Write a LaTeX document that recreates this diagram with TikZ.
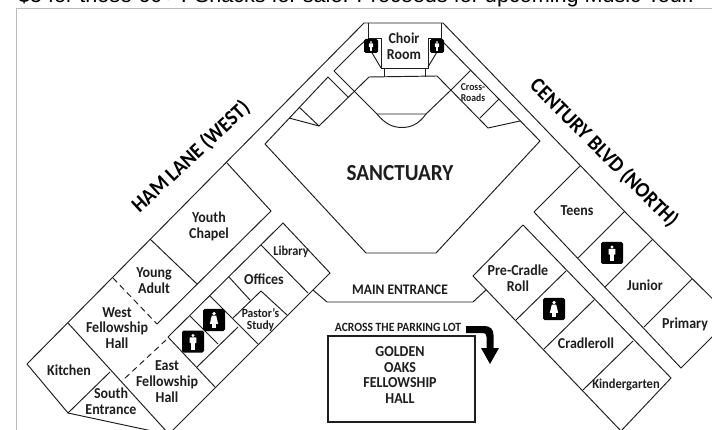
\documentclass[tikz,border=0pt]{standalone}
\usepackage{fontspec}
\setmainfont{Carlito}[FakeStretch=0.92]
\newfontfamily\topfont{Liberation Sans}
\newcommand{\labfont}{\fontsize{15.2}{15.8}\bfseries\selectfont}
\newcommand{\smallfont}{\fontsize{11.5}{11.3}\bfseries\selectfont}
\newcommand{\capfont}{\fontsize{14.6}{15.8}\bfseries\selectfont}
\definecolor{ink}{HTML}{1E1E1E}
\tikzset{
  wall/.style={draw=ink,line width=0.95pt,line join=miter},
  dashwall/.style={draw=ink,line width=0.95pt,dash pattern=on 6pt off 4pt},
  lab/.style={font=\labfont,align=center,inner sep=0pt,text=ink},
  smalllab/.style={font=\smallfont,align=center,inner sep=0pt,text=ink},
  caplab/.style={font=\capfont,align=center,inner sep=0pt,text=ink},
  street/.style={font=\fontsize{21.5}{22}\bfseries\selectfont,inner sep=0pt,text=black},
  tile/.style={fill=black},
  person/.style={fill=white,draw=none}
}
\newcommand{\manicon}[3]{% cx cy half-size
  \begin{scope}[shift={(#1,#2)},scale=#3]
    \fill[tile,rounded corners=1.6pt] (-1,-1) rectangle (1,1);
    \fill[person] (0,-0.55) circle (0.15);
    \fill[person,rounded corners=0.4pt] (-0.3,-0.38) rectangle (0.3,0.15);
    \fill[person] (-0.2,0.1) rectangle (-0.02,0.75);
    \fill[person] (0.02,0.1) rectangle (0.2,0.75);
  \end{scope}}
\newcommand{\womanicon}[3]{%
  \begin{scope}[shift={(#1,#2)},scale=#3]
    \fill[tile,rounded corners=1.6pt] (-1,-1) rectangle (1,1);
    \fill[person] (0,-0.58) circle (0.17);
    \fill[person] (-0.2,-0.4) -- (0.2,-0.4) -- (0.38,0.35) -- (-0.38,0.35) -- cycle;
    \fill[person] (-0.18,0.3) rectangle (-0.04,0.75);
    \fill[person] (0.04,0.3) rectangle (0.18,0.75);
  \end{scope}}
\begin{document}
\begin{tikzpicture}[x=1pt,y=-1pt]
\useasboundingbox (0,0) rectangle (712,430);
\clip (0,0) rectangle (712,430);
\fill[white] (0,0) rectangle (712,430);
% page frame and cut-off text
\draw[draw=black!27,line width=1pt] (16.5,430) -- (16.5,8.5) -- (712,8.5);
\node[anchor=base west,inner sep=0pt,font=\topfont\fontsize{21.6}{24}\selectfont] (toptext) at (18,3) {\$5 for those 60+ . Snacks for sale. Proceeds for upcoming Music Tour.};
% ---- main church outline
\draw[wall] (27,364) -- (364,23) -- (443,23) -- (628,215) -- (742,328);
\draw[wall] (27,364) -- (68,413) -- (152,431);
\draw[wall] (68,413) -- (110,372);
\draw[wall] (68,323) -- (168,433);
% west wing
\draw[wall] (227,163) -- (271,211) -- (157,324);
\draw[wall] (150,239) -- (197,284);
\draw[dashwall] (113,278) -- (157,324);
% east block
\draw[wall] (170,433) -- (330,273) -- (283,223) -- (168,337);
\draw[dashwall] (166,340) -- (122,381);
\draw[wall] (168,337) -- (215,387);
\draw[wall] (190,316) -- (218,344);
\draw[wall] (197,367) -- (238,327);
\draw[wall] (210,296) -- (258,344);
\draw[wall] (229,277) -- (250,300);
\draw[wall] (233,318) -- (261,291) -- (287,315);
\draw[wall] (261,245) -- (308,293);
% main entrance
\draw[wall] (313,290) -- (327,302) -- (473,302) -- (486,290);
% ---- sanctuary
\draw[wall] (369,77) -- (437,76) -- (488,128) -- (520,121);
\draw[wall] (369,77) -- (319,126) -- (289,118);
\draw[wall] (299,107) -- (319,126);
\draw[wall] (265,144) -- (328,77) -- (348,97);
\draw[wall] (334,71) -- (377,114) -- (426,114) -- (451,90);
\draw[wall] (377,114) .. controls (385,124) and (393,127.5) .. (402,127.5) .. controls (411,127.5) and (419,124) .. (426,114);
\draw[wall] (265,144) -- (366,253) -- (436,253) -- (540,141) -- (443,42);
\draw[wall] (334,71) -- (358,47);
\draw[wall] (358,47) -- (365,41);
% cross-roads
\draw[wall] (471,70) -- (451,90);
\draw[wall] (499,99) -- (480,118);
% ---- choir room
\draw[wall] (368,23) -- (368,38) -- (381,38) -- (381,68) -- (428,68) -- (428,38) -- (441,38) -- (441,23);
\draw[wall] (365,41) -- (381,68);
\draw[wall] (443,42) -- (428,67);
\draw[wall] (384,68) -- (384,77);
\draw[wall] (425,68) -- (425,77);
\manicon{371}{46}{7}
\manicon{437}{46}{7}
% ---- north wing
\draw[wall] (534,212) -- (580,166);
\draw[wall] (534,212) -- (681,368) -- (738,311);
\draw[wall] (578,258) -- (624.5,211.5);
\draw[wall] (605,287) -- (652.5,239.5);
\draw[wall] (644,327) -- (692,279);
% ---- nursery block
\draw[wall] (523,225) -- (473,276) -- (621,431) -- (671,378) -- (523,225);
\draw[wall] (516,320) -- (566,271);
\draw[wall] (544,349) -- (594,300);
\draw[wall] (583,390) -- (633,341);
% restroom tiles
\womanicon{214}{320}{11}
\manicon{193}{341.5}{11}
\manicon{612}{253}{11}
\womanicon{554}{309}{11}
% golden oaks
\draw[draw=ink,line width=1.4pt] (328,336) rectangle (475,422);
% arrow
\fill[black] (466,326) -- (484,326) .. controls (490,326) and (493.5,329) .. (493.5,335) -- (493.5,348) -- (499,348) -- (490,364) -- (481,348) -- (486.5,348) -- (486.5,337) .. controls (486.5,334) and (485,333) .. (483,333) -- (466,333) -- cycle;
% ---- labels
\node[street,rotate=43] (ham) at (191,157) {HAM LANE (WEST)};
\node[street,rotate=-45] (century) at (604,153) {CENTURY BLVD (NORTH)};
\node[font=\fontsize{23}{24}\bfseries\selectfont,inner sep=0pt,text=ink] (sanct) at (400,173) {SANCTUARY};
\node[lab] (choir) at (404,46) {Choir\\Room};
\node[smalllab,font=\fontsize{10.5}{11.3}\bfseries\selectfont] (cross) at (473,92.5) {Cross-\\Roads};
\node[lab] (teens) at (577,211) {Teens};
\node[lab] (youth) at (209,226) {Youth\\Chapel};
\node[lab] (young) at (154,281) {Young\\Adult};
\node[lab] (west) at (117,328) {West\\Fellowship\\Hall};
\node[lab] (kitchen) at (69,370) {Kitchen};
\node[lab] (south) at (111,401.5) {South\\Entrance};
\node[lab] (east) at (167,381.5) {East\\Fellowship\\Hall};
\node[lab,font=\fontsize{13.4}{15}\bfseries\selectfont] (library) at (291,252) {Library};
\node[lab] (offices) at (264,279) {Offices};
\node[smalllab,font=\fontsize{12.5}{11.3}\bfseries\selectfont] (pastor) at (260.5,320) {Pastor's\\Study};
\node[caplab] (main) at (400,290) {MAIN ENTRANCE};
\node[caplab,font=\fontsize{12.6}{15}\bfseries\selectfont] (across) at (398,327) {ACROSS THE PARKING LOT};
\node[lab] (golden) at (400,375) {GOLDEN\\OAKS\\FELLOWSHIP\\HALL};
\node[lab] (pre) at (518,278) {Pre-Cradle\\Roll};
\node[lab] (junior) at (645,285) {Junior};
\node[lab] (primary) at (685,324) {Primary};
\node[lab] (cradle) at (586,343) {Cradleroll};
\node[lab,font=\fontsize{13.6}{15}\bfseries\selectfont] (kinder) at (626,385) {Kindergarten};
\end{tikzpicture}
\end{document}
